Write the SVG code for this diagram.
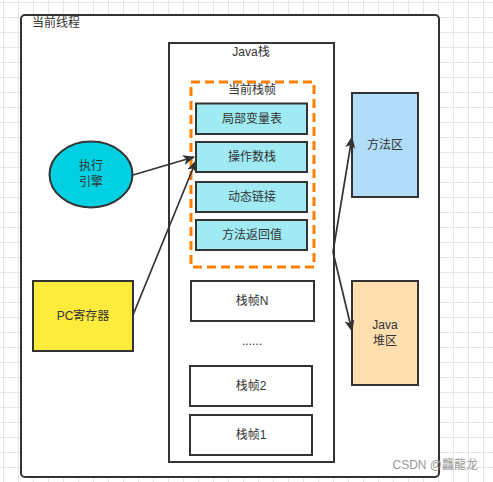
<svg xmlns="http://www.w3.org/2000/svg" width="493" height="482" viewBox="0 0 493 482">
<defs>
<pattern id="grid" width="15" height="15" patternUnits="userSpaceOnUse" x="3" y="2">
<path d="M0 0.5H15M0.5 0V15" fill="none" stroke="#e6e6e6" stroke-width="1"/>
</pattern>
<marker id="ah" viewBox="0 0 12 10" refX="11" refY="5" markerWidth="12" markerHeight="10" markerUnits="userSpaceOnUse" orient="auto">
<path d="M0 0L12 5L0 10L3 5Z" fill="#333"/>
</marker>
</defs>
<style>
.b{stroke:#333;stroke-width:2}
.t{font-family:"Liberation Sans","Noto Sans CJK SC",sans-serif;font-size:12px;fill:#333;text-anchor:middle}
.f{fill:#a0ebf3}
.c{fill:none;stroke:#333;stroke-width:1.7;marker-end:url(#ah)}
</style>
<rect width="493" height="482" fill="#fff"/>
<rect width="493" height="482" fill="url(#grid)"/>
<g id="thread">
<rect x="21" y="15" width="418" height="462" rx="4" fill="#fff" class="b"/>
<text x="32" y="27" class="t" style="text-anchor:start">当前线程</text>
</g>
<g id="javastack">
<rect x="169" y="43" width="165" height="419" fill="#fff" class="b"/>
<text x="251" y="56" class="t">Java栈</text>
</g>
<g id="curframe">
<rect x="191" y="82" width="123" height="185" fill="none" stroke="#ff8000" stroke-width="3" stroke-dasharray="9 5"/>
<text x="252" y="94" class="t">当前栈帧</text>
</g>
<g id="locals"><rect x="196" y="103.5" width="111" height="30.5" class="b f"/><text x="252" y="123" class="t">局部变量表</text></g>
<g id="operand"><rect x="196" y="142" width="111" height="30" class="b f"/><text x="252" y="161" class="t">操作数栈</text></g>
<g id="dynlink"><rect x="196" y="182" width="111" height="30" class="b f"/><text x="252" y="201" class="t">动态链接</text></g>
<g id="retval"><rect x="196" y="220" width="111" height="30" class="b f"/><text x="252" y="239" class="t">方法返回值</text></g>
<g id="frameN"><rect x="191" y="281" width="123" height="40" fill="#fff" class="b"/><text x="252" y="305" class="t">栈帧N</text></g>
<g id="dots"><text x="252" y="345" class="t">......</text></g>
<g id="frame2"><rect x="190" y="366" width="122" height="40" fill="#fff" class="b"/><text x="251" y="390" class="t">栈帧2</text></g>
<g id="frame1"><rect x="190" y="415" width="122" height="40" fill="#fff" class="b"/><text x="251" y="439" class="t">栈帧1</text></g>
<g id="method"><rect x="352" y="93" width="66" height="104" fill="#b1ddf9" class="b"/><text x="385" y="149" class="t">方法区</text></g>
<g id="heap"><rect x="352" y="281" width="66" height="104" fill="#ffdeb0" class="b"/><text x="385" y="329" class="t">Java</text><text x="385" y="345" class="t">堆区</text></g>
<g id="engine"><ellipse cx="91" cy="174.5" rx="41.5" ry="33" fill="#00d0e2" class="b"/><text x="91" y="170" class="t">执行</text><text x="91" y="186" class="t">引擎</text></g>
<g id="pc"><rect x="33" y="281" width="100" height="70" fill="#ffeb3b" class="b"/><text x="83" y="320" class="t">PC寄存器</text></g>
<g id="connectors">
<path d="M133 175L194 157" class="c"/>
<path d="M133 315L196 161" class="c"/>
<path d="M333 252L352 137" class="c"/>
<path d="M333 252L352 331" class="c"/>
</g>
<text x="478" y="469" style="font-family:'Liberation Sans','Noto Sans CJK SC',sans-serif;font-size:12px;fill:#999;text-anchor:end">CSDN @龘龍龙</text>
</svg>
